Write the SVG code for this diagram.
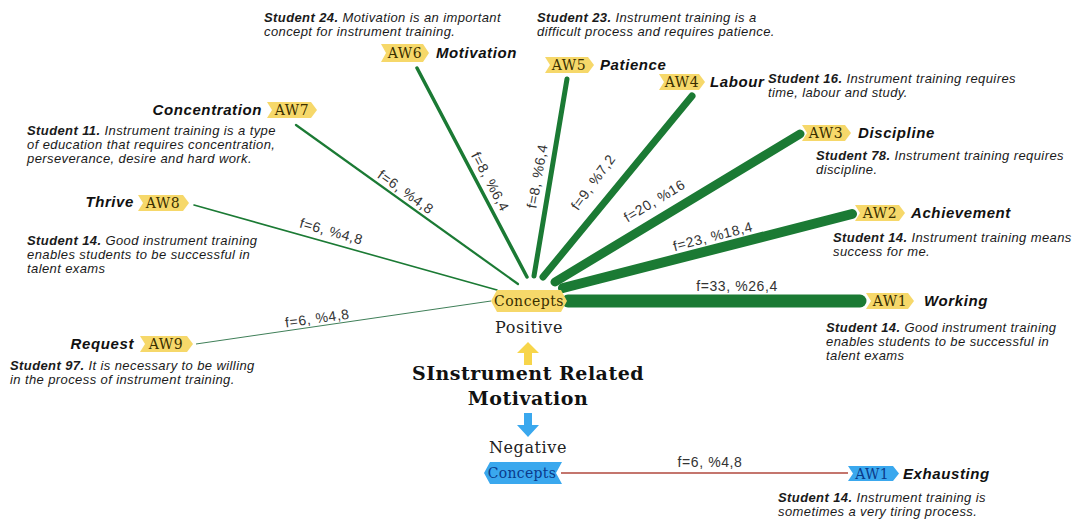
<svg xmlns="http://www.w3.org/2000/svg" width="1082" height="519" viewBox="0 0 1082 519">
<style>
.q{font-family:"Liberation Sans",Arial,sans-serif;font-size:13px;letter-spacing:0.4px;font-style:italic;fill:#1a1a1a}
.q tspan.b{font-weight:bold}
.nm{font-family:"Liberation Sans",Arial,sans-serif;font-size:15px;letter-spacing:0.6px;font-style:italic;font-weight:bold;fill:#111}
.tg{font-family:"DejaVu Serif",serif;font-size:14px;letter-spacing:0.5px;fill:#3a2f00}
.tgb{font-family:"DejaVu Serif",serif;font-size:14px;letter-spacing:0.3px;fill:#0b3a8a}
.lb{font-family:"Liberation Sans",Arial,sans-serif;font-size:14px;letter-spacing:0.6px;fill:#333}
.ctr{font-family:"DejaVu Serif",serif;font-size:16px;letter-spacing:0.6px;fill:#222}
.ttl{font-family:"DejaVu Serif",serif;font-size:19px;letter-spacing:0.5px;font-weight:bold;fill:#111}
.ytag{fill:#f6d86a}
.btag{fill:#3aa8ee}
.g{stroke:#1b7a34;fill:none;stroke-linecap:round}
</style>
<rect width="1082" height="519" fill="#fff"/>
<g id="connectors">
<line class="g" x1="568" y1="301" x2="860" y2="301" stroke-width="13"/>
<line class="g" x1="563" y1="288" x2="852" y2="214" stroke-width="10"/>
<line class="g" x1="555" y1="282" x2="800" y2="134" stroke-width="9"/>
<line class="g" x1="543" y1="277" x2="692" y2="96" stroke-width="7"/>
<line class="g" x1="534" y1="276" x2="567" y2="79" stroke-width="5"/>
<line class="g" x1="527" y1="277" x2="417" y2="68" stroke-width="3.5"/>
<line class="g" x1="518" y1="284" x2="296" y2="125" stroke-width="2.2"/>
<line class="g" x1="497" y1="290" x2="194" y2="205" stroke-width="1.6"/>
<line x1="491" y1="301" x2="196" y2="344" stroke="#3f7f58" stroke-width="1"/>
<line x1="561" y1="473" x2="848" y2="473" stroke="#b0473c" stroke-width="1.3"/>
<text class="lb" x="737" y="291" text-anchor="middle">f=33, %26,4</text>
<text class="lb" transform="translate(714,241) rotate(-14.4)" text-anchor="middle">f=23, %18,4</text>
<text class="lb" transform="translate(657,205) rotate(-31)" text-anchor="middle">f=20, %16</text>
<text class="lb" transform="translate(597,185) rotate(-54)" text-anchor="middle">f=9, %7,2</text>
<text class="lb" transform="translate(542,177) rotate(-80)" text-anchor="middle">f=8, %6,4</text>
<text class="lb" transform="translate(486,184) rotate(62)" text-anchor="middle">f=8, %6,4</text>
<text class="lb" transform="translate(403,196) rotate(35.6)" text-anchor="middle">f=6, %4,8</text>
<text class="lb" transform="translate(330,236) rotate(15.8)" text-anchor="middle">f=6, %4,8</text>
<text class="lb" transform="translate(318,323) rotate(-8)" text-anchor="middle">f=6, %4,8</text>
<text class="lb" x="710" y="467" text-anchor="middle">f=6, %4,8</text>
</g>
<g id="concepts-positive">
<polygon class="ytag" points="497,290 561,290 567,301 561,312 497,312 491,301"/>
<text class="tg" x="529" y="306" text-anchor="middle">Concepts</text>
</g>
<g id="center-title">
<text class="ctr" x="529" y="333" text-anchor="middle">Positive</text>
<polygon points="528,342 539,353 532,353 532,365 524,365 524,353 517,353" fill="#f7d54a"/>
<text class="ttl" x="528" y="380" text-anchor="middle">SInstrument Related</text>
<text class="ttl" x="528" y="405" text-anchor="middle">Motivation</text>
<polygon points="524,413 532,413 532,425 539,425 528,437 517,425 524,425" fill="#3aa8ee"/>
<text class="ctr" x="528" y="453" text-anchor="middle">Negative</text>
</g>
<g id="concepts-negative">
<polygon class="btag" points="490,462 562,462 556,473 562,484 490,484 484,473"/>
<text class="tgb" x="522" y="478" text-anchor="middle">Concepts</text>
</g>
<g id="aw6">
<polygon class="ytag" points="381,44 423,44 429,53 423,62 381,62 386,53"/>
<text class="tg" x="405" y="58" text-anchor="middle">AW6</text>
<text class="nm" x="436" y="58">Motivation</text>
<text class="q" x="264" y="22"><tspan class="b">Student 24.</tspan> Motivation is an important</text>
<text class="q" x="264" y="36">concept for instrument training.</text>
</g>
<g id="aw5">
<polygon class="ytag" points="545,57 588,57 594,65 588,73 545,73 550,65"/>
<text class="tg" x="569" y="70" text-anchor="middle">AW5</text>
<text class="nm" x="600" y="70">Patience</text>
<text class="q" x="537" y="22"><tspan class="b">Student 23.</tspan> Instrument training is a</text>
<text class="q" x="537" y="36">difficult process and requires patience.</text>
</g>
<g id="aw4">
<polygon class="ytag" points="659,74 699,74 705,82 699,90 659,90 664,82"/>
<text class="tg" x="682" y="87" text-anchor="middle">AW4</text>
<text class="nm" x="710" y="87">Labour</text>
<text class="q" x="768" y="83"><tspan class="b">Student 16.</tspan> Instrument training requires</text>
<text class="q" x="768" y="97">time, labour and study.</text>
</g>
<g id="aw3">
<polygon class="ytag" points="802,125 845,125 851,133 845,141 802,141 807,133"/>
<text class="tg" x="826" y="138" text-anchor="middle">AW3</text>
<text class="nm" x="858" y="138">Discipline</text>
<text class="q" x="816" y="160"><tspan class="b">Student 78.</tspan> Instrument training requires</text>
<text class="q" x="816" y="174">discipline.</text>
</g>
<g id="aw2">
<polygon class="ytag" points="855,205 899,205 905,213 899,221 855,221 860,213"/>
<text class="tg" x="880" y="218" text-anchor="middle">AW2</text>
<text class="nm" x="911" y="218">Achievement</text>
<text class="q" x="833" y="242"><tspan class="b">Student 14.</tspan> Instrument training means</text>
<text class="q" x="833" y="256">success for me.</text>
</g>
<g id="aw1-positive">
<polygon class="ytag" points="866,293 908,293 914,301 908,309 866,309 871,301"/>
<text class="tg" x="890" y="306" text-anchor="middle">AW1</text>
<text class="nm" x="924" y="306">Working</text>
<text class="q" x="826" y="332"><tspan class="b">Student 14.</tspan> Good instrument training</text>
<text class="q" x="826" y="346">enables students to be successful in</text>
<text class="q" x="826" y="360">talent exams</text>
</g>
<g id="aw7">
<polygon class="ytag" points="267,102 311,102 317,110 311,118 267,118 272,110"/>
<text class="tg" x="292" y="115" text-anchor="middle">AW7</text>
<text class="nm" x="262" y="115" text-anchor="end">Concentration</text>
<text class="q" x="27" y="135"><tspan class="b">Student 11.</tspan> Instrument training is a type</text>
<text class="q" x="27" y="149">of education that requires concentration,</text>
<text class="q" x="27" y="163">perseverance, desire and hard work.</text>
</g>
<g id="aw8">
<polygon class="ytag" points="138,195 183,195 189,203 183,211 138,211 143,203"/>
<text class="tg" x="163" y="208" text-anchor="middle">AW8</text>
<text class="nm" x="134" y="207" text-anchor="end">Thrive</text>
<text class="q" x="27" y="245"><tspan class="b">Student 14.</tspan> Good instrument training</text>
<text class="q" x="27" y="259">enables students to be successful in</text>
<text class="q" x="27" y="273">talent exams</text>
</g>
<g id="aw9">
<polygon class="ytag" points="140,336 187,336 193,344 187,352 140,352 145,344"/>
<text class="tg" x="166" y="349" text-anchor="middle">AW9</text>
<text class="nm" x="134" y="349" text-anchor="end">Request</text>
<text class="q" x="10" y="370"><tspan class="b">Student 97.</tspan> It is necessary to be willing</text>
<text class="q" x="10" y="384">in the process of instrument training.</text>
</g>
<g id="aw1-negative">
<polygon class="btag" points="848,466 893,466 899,473.5 893,481 848,481 853,473.5"/>
<text class="tgb" x="872" y="478.5" text-anchor="middle">AW1</text>
<text class="nm" x="903" y="479">Exhausting</text>
<text class="q" x="778" y="502"><tspan class="b">Student 14.</tspan> Instrument training is</text>
<text class="q" x="778" y="516">sometimes a very tiring process.</text>
</g>
</svg>
